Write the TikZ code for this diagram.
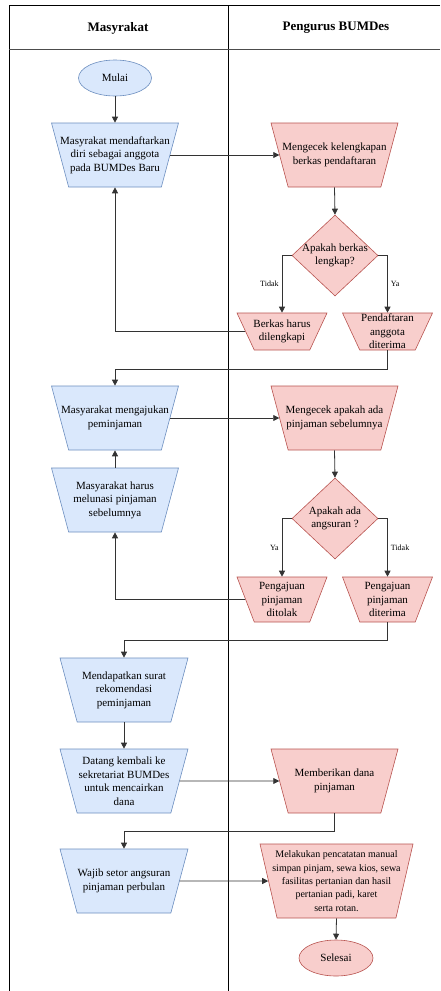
\documentclass[tikz,border=0pt]{standalone}
\usepackage{fontspec}
\setmainfont{Liberation Serif}
\usetikzlibrary{arrows.meta}
\usetikzlibrary{shapes.geometric}

\definecolor{biruisi}{HTML}{DAE8FC}
\definecolor{birugaris}{HTML}{6C8EBF}
\definecolor{merahisi}{HTML}{F8CECC}
\definecolor{merahgaris}{HTML}{B85450}

\begin{document}
\begin{tikzpicture}[
    x=1pt, y=-1pt,  % one unit = one pixel, y runs downwards
    lajur/.style={draw=black, line width=0.9pt},
    judul/.style={font=\fontsize{13}{15}\selectfont\bfseries},
    teks/.style={align=center, font=\fontsize{11}{13.5}\selectfont, inner sep=0pt},
    ket/.style={font=\fontsize{8}{9}\selectfont, inner sep=3pt},
    biru/.style={trapezium, trapezium stretches body, draw=birugaris, fill=biruisi, inner sep=0pt, text depth=0pt, line width=0.6pt},
    merah/.style={trapezium, trapezium stretches body, draw=merahgaris, fill=merahisi, inner sep=0pt, text depth=0pt, line width=0.6pt},
    besar/.style={minimum width=127pt, text height=64pt, trapezium left angle=105, trapezium right angle=105},
    lebar/.style={minimum width=153pt, text height=74pt, trapezium left angle=103, trapezium right angle=103},
    kecil/.style={minimum width=90pt, text height=37pt, trapezium left angle=115, trapezium right angle=115},
    sedang/.style={minimum width=90pt, text height=45pt, trapezium left angle=111, trapezium right angle=111},
    keputusan/.style={diamond, draw=merahgaris, fill=merahisi, minimum width=86pt, minimum height=81pt, inner sep=0pt, line width=0.6pt},
    terminal/.style={ellipse, minimum width=73pt, minimum height=36pt, inner sep=0pt, line width=0.6pt, font=\fontsize{11}{13.5}\selectfont},
    panah/.style={draw=black!80, line width=0.8pt, -{Triangle[length=6pt, width=6pt]}}
]
    \useasboundingbox (0,0) rectangle (440,991);

    % swimlanes
    \draw[lajur] (440,5) -- (9,5) -- (9,991);
    \draw[lajur] (228,5) -- (228,991);
    \draw[draw=black!70, line width=0.9pt] (9,49) -- (440,49);
    \node[judul] (h1) at (118,28) {Masyrakat};
    \node[judul] (h2) at (336,28) {Pengurus BUMDes};

    % pendaftaran anggota
    \node[terminal, draw=birugaris, fill=biruisi] (mulai) at (115,78) {Mulai};
    \node[biru, besar] (p1) at (115,155) {};
    \node[teks] (tp1) at (p1) {Masyrakat mendaftarkan\\diri sebagai anggota\\pada BUMDes Baru};
    \node[merah, besar] (q1) at (334.5,155) {};
    \node[teks] (tq1) at (q1) {Mengecek kelengkapan\\berkas pendaftaran};
    \node[keputusan] (d1) at (335,255.5) {};
    \node[teks] (td1) at (d1) {Apakah berkas\\lengkap?};
    \node[merah, kecil] (q2) at (282,331.5) {};
    \node[teks] (tq2) at (q2) {Berkas harus\\dilengkapi};
    \node[merah, kecil] (q3) at (387.5,331.5) {};
    \node[teks] (tq3) at (q3) {Pendaftaran\\anggota\\diterima};

    % pengajuan pinjaman
    \node[biru, besar] (p2) at (115,418) {};
    \node[teks] (tp2) at (p2) {Masyarakat mengajukan\\peminjaman};
    \node[biru, besar] (p3) at (115,500) {};
    \node[teks] (tp3) at (p3) {Masyarakat harus\\melunasi pinjaman\\sebelumnya};
    \node[merah, besar] (q4) at (334.5,418) {};
    \node[teks] (tq4) at (q4) {Mengecek apakah ada\\pinjaman sebelumnya};
    \node[keputusan] (d2) at (335,518.5) {};
    \node[teks] (td2) at (d2) {Apakah ada\\angsuran ?};
    \node[merah, sedang] (q5) at (282,599.5) {};
    \node[teks] (tq5) at (q5) {Pengajuan\\pinjaman\\ditolak};
    \node[merah, sedang] (q6) at (387.5,599.5) {};
    \node[teks] (tq6) at (q6) {Pengajuan\\pinjaman\\diterima};

    % pencairan dan angsuran
    \node[biru, besar, minimum width=128pt] (p4) at (124,690) {};
    \node[teks] (tp4) at (p4) {Mendapatkan surat\\rekomendasi\\peminjaman};
    \node[biru, besar, minimum width=128pt] (p5) at (124,781) {};
    \node[teks] (tp5) at (p5) {Datang kembali ke\\sekretariat BUMDes\\untuk mencairkan\\dana};
    \node[merah, besar] (q7) at (334.5,781) {};
    \node[teks] (tq7) at (q7) {Memberikan dana\\pinjaman};
    \node[biru, besar, minimum width=128pt] (p6) at (124,881) {};
    \node[teks] (tp6) at (p6) {Wajib setor angsuran\\pinjaman perbulan};
    \node[merah, lebar] (q8) at (336.5,881) {};
    \node[teks, font=\fontsize{10}{13.3}\selectfont] (tq8) at (q8) {Melakukan pencatatan manual\\simpan pinjam, sewa kios, sewa\\fasilitas pertanian dan hasil\\pertanian padi, karet\\serta rotan.};
    \node[terminal, draw=merahgaris, fill=merahisi, minimum width=74pt] (selesai) at (336,958) {Selesai};

    % connectors
    \draw[panah] (mulai) -- (p1);
    \draw[panah] (p1.east) -- (q1.west);
    \draw[panah] (q1.south) -- (d1.north);
    \draw[panah] (d1.west) -| node[ket, pos=0.75, left] {Tidak} (q2.north);
    \draw[panah] (d1.east) -| node[ket, pos=0.75, right] {Ya} (q3.north);
    \draw[panah] (q2.west) -| (p1.south);
    \draw[panah] (q3.south) -- ++(0,19) -| (p2.north);
    \draw[panah] (p2.east) -- (q4.west);
    \draw[panah] (q4.south) -- (d2.north);
    \draw[panah] (d2.west) -| node[ket, pos=0.75, left] {Ya} (q5.north);
    \draw[panah] (d2.east) -| node[ket, pos=0.75, right] {Tidak} (q6.north);
    \draw[panah] (q5.west) -| (p3.south);
    \draw[panah] (p3.north) -- (p2.south);
    \draw[panah] (q6.south) -- ++(0,18) -| (p4.north);
    \draw[panah] (p4.south) -- (p5.north);
    \draw[panah] (p5.east) -- (q7.west);
    \draw[panah] (q7.south) -- ++(0,18) -| (p6.north);
    \draw[panah] (p6.east) -- (q8.west);
    \draw[panah] (q8.south) -- (selesai.north);
\end{tikzpicture}
\end{document}
